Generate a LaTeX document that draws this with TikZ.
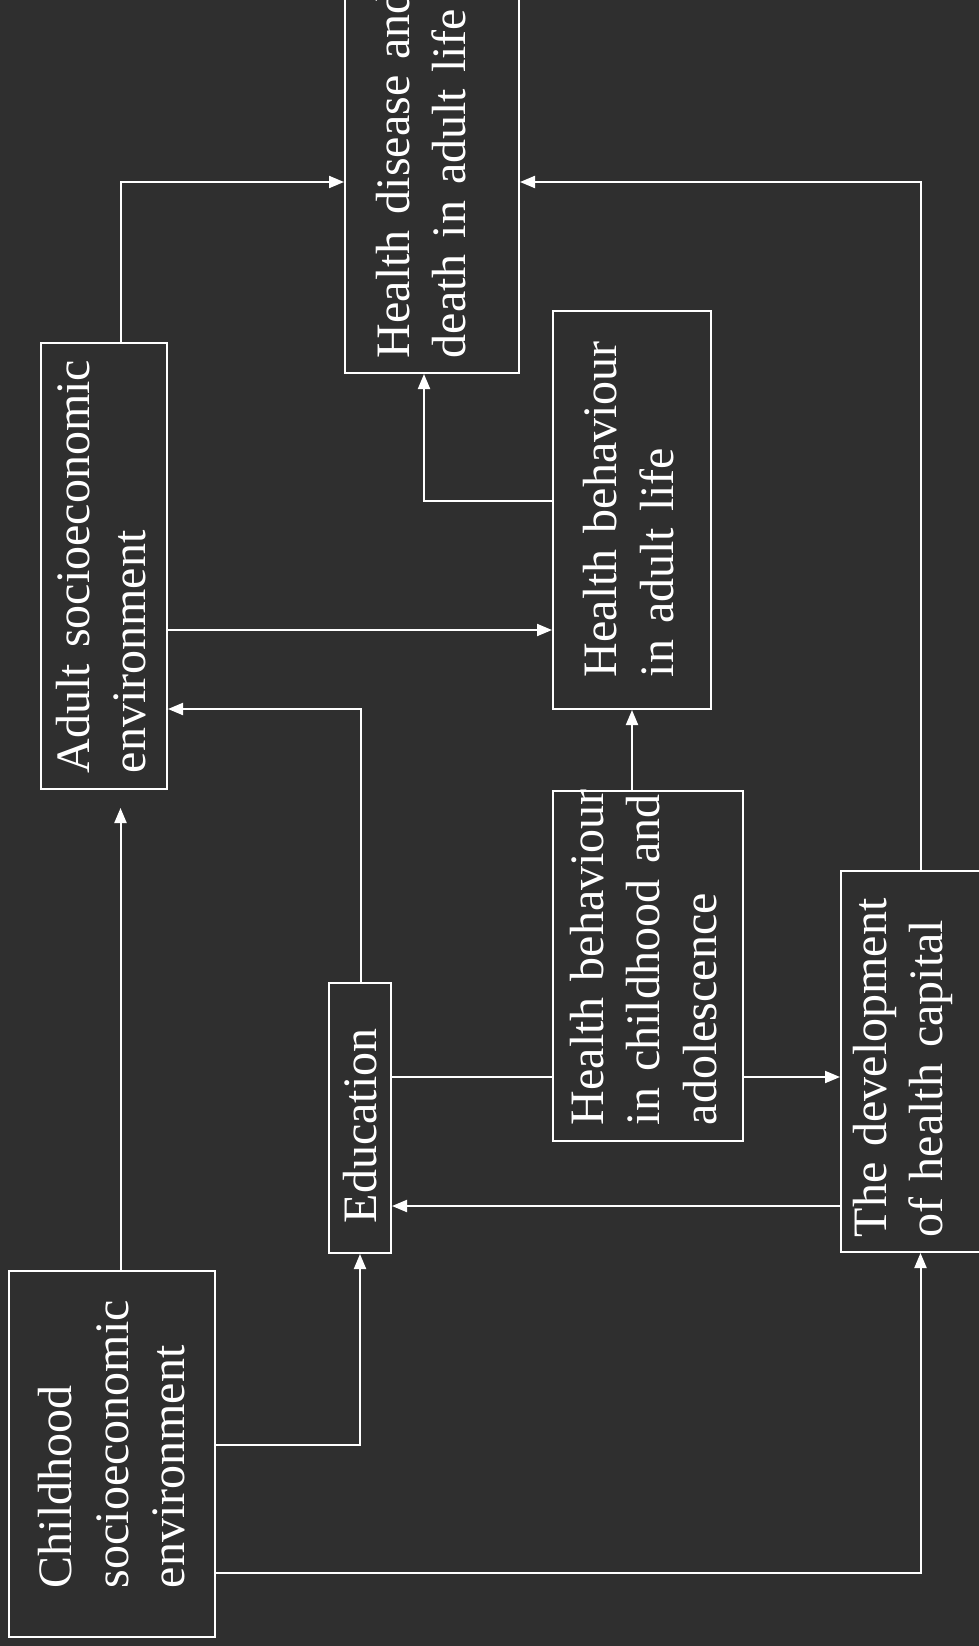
\documentclass[tikz,border=0pt]{standalone}
\usepackage{fontspec}
\setmainfont{Liberation Serif}
\usetikzlibrary{arrows.meta}
\definecolor{bg}{RGB}{47,47,47}
\begin{document}
\hyphenpenalty=10000
\exhyphenpenalty=10000
\begin{tikzpicture}[x=1pt,y=-1pt,
  box/.style={draw=white, line width=2pt, rotate=90, align=left, inner sep=0pt,
    text=white, font={\fontsize{48}{56.5}\selectfont}},
  arr/.style={draw=white, line width=2pt, -{Triangle[length=15pt,width=12pt]}},
  ln/.style={draw=white, line width=2pt}]
\fill[bg] (0,0) rectangle (979,1646);
\useasboundingbox (0,0) rectangle (979,1646);
\clip (0,0) rectangle (979,1646);

\node[box, minimum width=398pt, minimum height=174pt, text width=368pt, text depth=78.5pt] (hd) at (432,174) {Health~disease~and\\death~in~adult~life};
\node[box, minimum width=446pt, minimum height=126pt, text width=414pt, text depth=62.5pt] (adult) at (104,566) {Adult~socioeconomic\\environment};
\node[box, minimum width=398pt, minimum height=158pt, text width=334pt, text depth=63.5pt] (hba) at (632,510) {Health~behaviour\\in~adult~life};
\node[box, minimum width=350pt, minimum height=190pt, text width=318pt, text depth=123pt] (hbc) at (648,966) {Health~behaviour\\in~childhood~and\\adolescence};
\node[box, minimum width=270pt, minimum height=62pt, text width=210pt] (edu) at (360,1118) {Education};
\node[box, minimum width=381pt, minimum height=160pt, text width=351pt, text depth=103pt] (dev) at (921,1061.5) {The~development\\of~health~capital};
\node[box, minimum width=366pt, minimum height=206pt, text width=268pt] (child) at (112,1454) {Childhood\\socioeconomic\\environment};

\coordinate (a1) at (120.5,182);
\draw[arr] (adult.east -| a1) |- (hd.north |- a1);
\coordinate (a2) at (921,182);
\draw[arr] (dev.east -| a2) |- (hd.south |- a2);
\coordinate (a3) at (424,501);
\draw[arr] (hba.north |- a3) -| (hd.west -| a3);
\coordinate (a4) at (0,630);
\draw[arr] (adult.south |- a4) -- (hba.north |- a4);
\coordinate (a5) at (361,709);
\draw[arr] (edu.east -| a5) |- (adult.south |- a5);
\coordinate (a6) at (632,0);
\draw[arr] (hbc.east -| a6) -- (hba.west -| a6);
\coordinate (a7) at (0,1077);
\draw[ln] (edu.south |- a7) -- (hbc.north |- a7);
\draw[arr] (hbc.south |- a7) -- (dev.north |- a7);
\coordinate (a9) at (0,1206);
\draw[arr] (dev.north |- a9) -- (edu.south |- a9);
\coordinate (a10) at (120.5,808);
\draw[arr] (child.east -| a10) -- (a10);
\coordinate (a11) at (360,1445);
\draw[arr] (child.south |- a11) -| (edu.west -| a11);
\coordinate (a12) at (920.5,1573);
\draw[arr] (child.south |- a12) -| (dev.west -| a12);
\end{tikzpicture}
\end{document}
